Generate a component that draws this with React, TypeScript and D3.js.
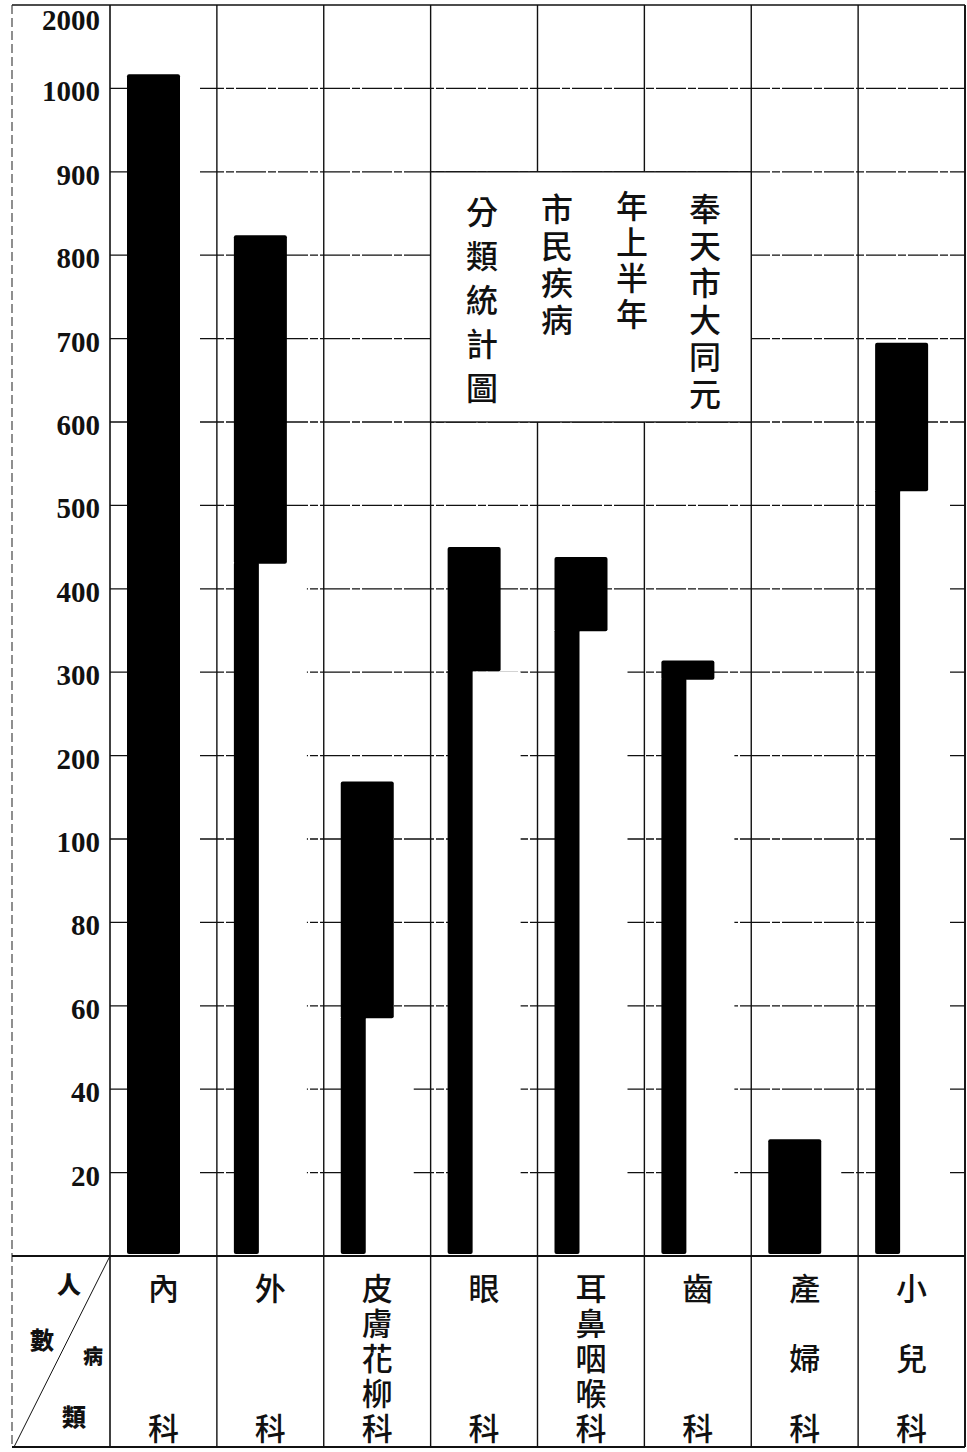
import React from "react";
import * as d3 from "d3";

// ---- data ----
const categories = ["內科", "外科", "皮膚花柳科", "眼科", "耳鼻咽喉科", "齒科", "產婦科", "小兒科"];
// top of each bar (persons)
const totalValues = [1170, 824, 169, 450, 438, 314, 28, 695];
// value where the wide (upper) part of the bar begins; 0 = wide all the way down
const shoulderValues = [0, 430, 57, 301, 349, 291, 0, 517];
const tickValues = [0, 20, 40, 60, 80, 100, 200, 300, 400, 500, 600, 700, 800, 900, 1000, 2000];
const tickLabels = ["", "20", "40", "60", "80", "100", "200", "300", "400", "500", "600", "700", "800", "900", "1000", "2000"];
const titleColumns = ["奉天市大同元", "年上半年", "市民疾病", "分類統計圖"];
const cornerTexts = ["人", "數", "病", "類"];

const W = 967;
const H = 1452;
const LEFT = 12;
const AXIS_X = 110;
const RIGHT = 965;
const TOP = 5;
const BASE = 1256;
const BOTTOM = 1447;
const STEP = (BASE - TOP) / (tickValues.length - 1);

export default function App() {
  const y = d3
    .scaleLinear()
    .domain(tickValues)
    .range(tickValues.map((_, i) => BASE - i * STEP));
  const x = d3.scaleBand<string>().domain(categories).range([AXIS_X, RIGHT]).padding(0);
  const bw = x.bandwidth();
  const colLines = d3.range(categories.length + 1).map((i) => AXIS_X + i * bw);

  const barOffset = 17;
  const wideW = 53;
  const narrowW = 25;

  const ink = "#111";
  const cjk = "'Noto Sans CJK TC', 'Noto Sans CJK JP', sans-serif";

  // title box spans columns 3..6 and rows 900..600
  const boxX0 = colLines[3];
  const boxX1 = colLines[6];
  const boxY0 = y(900);
  const boxY1 = y(600);

  const titleColX = [705, 632, 557, 482];
  const titleSpacing = [37, 36, 37, 44];
  const titleStartY = [207, 204, 207, 210];

  const cornerPos = [
    [69, 1283],
    [42, 1338],
    [93, 1355],
    [74, 1415],
  ];

  return (
    <svg
      width={W}
      height={H}
      viewBox={`0 0 ${W} ${H}`}
      style={{ position: "absolute", left: 0, top: 0, background: "#fff" }}
    >
      <rect x={0} y={0} width={W} height={H} fill="#fff" />

      {/* horizontal grid lines */}
      {tickValues
        .filter((v) => v > 0 && v < 2000)
        .map((v) => (
          <line
            key={"h" + v}
            x1={AXIS_X}
            x2={RIGHT}
            y1={y(v)}
            y2={y(v)}
            stroke={ink}
            strokeWidth={1.3}
            strokeDasharray="30 2 8 2"
          />
        ))}

      {/* white gaps the printer left around the bars */}
      {categories.map((c, i) => {
        const left = (x(c) as number) + barOffset;
        const topV = shoulderValues[i] > 0 ? shoulderValues[i] : totalValues[i];
        return (
          <rect
            key={"gap" + c}
            x={left + 2}
            y={y(topV)}
            width={wideW + 18}
            height={BASE - y(topV) - 2}
            fill="#fff"
          />
        );
      })}

      {/* vertical column lines */}
      {colLines.map((cx, i) => (
        <line key={"v" + i} x1={cx} x2={cx} y1={TOP} y2={BOTTOM} stroke={ink} strokeWidth={i === 0 ? 1.6 : 1.4} />
      ))}

      {/* frame */}
      <line x1={LEFT} x2={RIGHT} y1={TOP} y2={TOP} stroke={ink} strokeWidth={1.6} />
      <line x1={RIGHT} x2={RIGHT} y1={TOP} y2={BOTTOM} stroke={ink} strokeWidth={1.8} />
      <line x1={LEFT} x2={LEFT} y1={TOP} y2={BOTTOM} stroke="#333" strokeWidth={1.1} strokeDasharray="9 4" />
      <line x1={LEFT} x2={RIGHT} y1={BASE} y2={BASE} stroke={ink} strokeWidth={2.2} />
      <line x1={LEFT} x2={RIGHT} y1={BOTTOM} y2={BOTTOM} stroke={ink} strokeWidth={1.8} />

      {/* title box */}
      <rect x={boxX0} y={boxY0} width={boxX1 - boxX0} height={boxY1 - boxY0} fill="#fff" stroke={ink} strokeWidth={1.4} />
      {titleColumns.map((col, ci) =>
        Array.from(col).map((ch, k) => (
          <text
            key={"t" + ci + "-" + k}
            x={titleColX[ci]}
            y={titleStartY[ci] + k * titleSpacing[ci]}
            textAnchor="middle"
            dominantBaseline="central"
            fontFamily={cjk}
            fontSize={32}
            fontWeight={500}
            fill={ink}
          >
            {ch}
          </text>
        ))
      )}

      {/* bars */}
      {categories.map((c, i) => {
        const left = (x(c) as number) + barOffset;
        const yTop = y(totalValues[i]);
        const yBottom = y(0) - 2;
        const s = shoulderValues[i];
        if (s <= 0) {
          return <rect key={"b" + c} x={left} y={yTop} width={wideW} height={yBottom - yTop} rx={2} fill="#000" />;
        }
        const yS = y(s);
        return (
          <g key={"b" + c}>
            <rect x={left} y={yTop} width={wideW} height={yS - yTop} rx={2} fill="#000" />
            <rect x={left} y={yS - 2} width={narrowW} height={yBottom - yS + 2} rx={2} fill="#000" />
          </g>
        );
      })}

      {/* y tick labels */}
      {tickValues.map((v, i) =>
        tickLabels[i] ? (
          <text
            key={"yl" + v}
            x={100}
            y={Math.max(y(v) + 13, 30)}
            textAnchor="end"
            fontFamily="'Liberation Serif', 'Times New Roman', serif"
            fontWeight={700}
            fontSize={29}
            fill={ink}
          >
            {tickLabels[i]}
          </text>
        ) : null
      )}

      {/* corner header cell */}
      <line x1={AXIS_X} y1={BASE} x2={LEFT + 2} y2={BOTTOM} stroke={ink} strokeWidth={1} />
      {cornerTexts.map((ch, k) => (
        <text
          key={"c" + k}
          x={cornerPos[k][0]}
          y={cornerPos[k][1]}
          textAnchor="middle"
          dominantBaseline="central"
          fontFamily={cjk}
          fontWeight={900}
          fontSize={k === 2 ? 20 : 24}
          fill={ink}
        >
          {ch}
        </text>
      ))}

      {/* category labels, written vertically (one text per character) */}
      {categories.map((c) => {
        const chars = Array.from(c);
        const n = chars.length;
        const cx = (x(c) as number) + bw / 2;
        return chars.map((ch, k) => (
          <text
            key={"cat" + c + k}
            x={cx}
            y={1286 + (n > 1 ? (k * 140) / (n - 1) : 0)}
            textAnchor="middle"
            dominantBaseline="central"
            fontFamily={cjk}
            fontSize={31}
            fontWeight={500}
            fill={ink}
          >
            {ch}
          </text>
        ));
      })}
    </svg>
  );
}
